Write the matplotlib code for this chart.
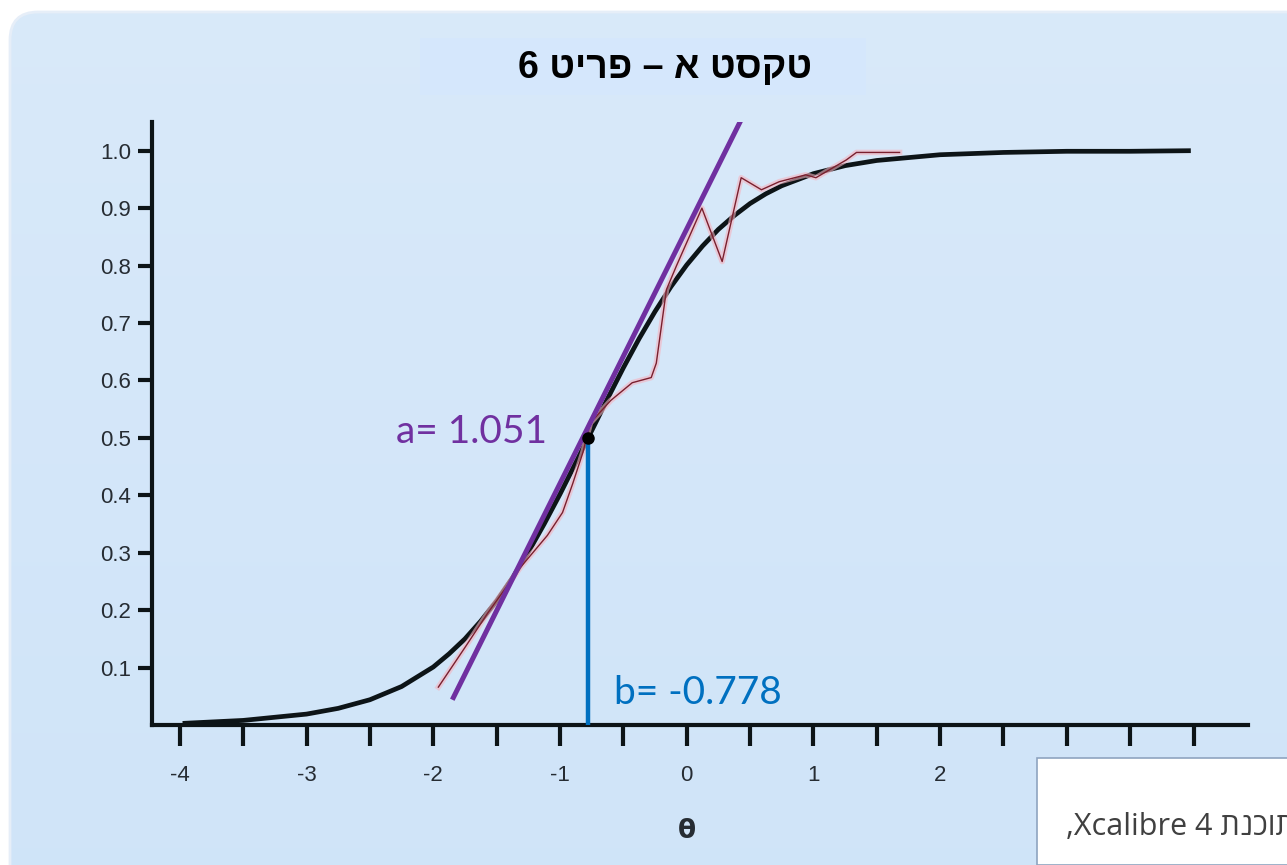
import numpy as np
import matplotlib.pyplot as plt
from matplotlib.patches import FancyBboxPatch, Rectangle

# model ICC (2PL)
theta_icc = [-3.96, -3.5, -3.0, -2.75, -2.5, -2.25, -2.0, -1.875, -1.75, -1.625, -1.5,
             -1.375, -1.25, -1.125, -1.0, -0.875, -0.778, -0.625, -0.5, -0.375, -0.25,
             -0.125, 0.0, 0.125, 0.25, 0.375, 0.5, 0.625, 0.75, 1.0, 1.25, 1.5, 2.0,
             2.5, 3.0, 3.5, 3.96]
p_icc = [0.003, 0.008, 0.019, 0.029, 0.044, 0.067, 0.101, 0.124, 0.150, 0.181, 0.216,
         0.256, 0.301, 0.350, 0.402, 0.457, 0.5, 0.568, 0.622, 0.673, 0.720,
         0.763, 0.801, 0.834, 0.863, 0.887, 0.908, 0.925, 0.939, 0.960, 0.974, 0.983,
         0.993, 0.997, 0.999, 0.999, 1.0]

# empirical (red) line
theta_emp = [-1.96, -1.75, -1.57, -1.31, -1.10, -0.98, -0.90, -0.82, -0.76, -0.60, -0.43,
             -0.28, -0.24, -0.16, -0.08, 0.12, 0.28, 0.43, 0.59, 0.73, 0.94, 1.02, 1.26,
             1.34, 1.68]
p_emp = [0.066, 0.135, 0.195, 0.275, 0.330, 0.370, 0.42, 0.474, 0.526, 0.565, 0.596,
         0.605, 0.63, 0.758, 0.80, 0.90, 0.807, 0.953, 0.932, 0.946, 0.958, 0.953, 0.984,
         0.997, 0.997]

# tangent at b
tan_x = [-1.85, 0.457]
tan_y = [0.044, 1.066]

a_param = 1.051
b_param = -0.778

x_ticks = np.arange(-4, 4.01, 0.5)
x_labels = ['-4', '', '-3', '', '-2', '', '-1', '', '0', '', '1', '', '2', '', '3', '', '4']
y_ticks = [0.1, 0.2, 0.3, 0.4, 0.5, 0.6, 0.7, 0.8, 0.9, 1.0]

title_txt = "טקסט א – פריט 6"
note_heb = "תוכנת"
note_lat = "Xcalibre 4"

W, H = 1287, 865
fig = plt.figure(figsize=(W / 100, H / 100), dpi=100)
fig.patch.set_facecolor('white')

# background panel with soft gradient
bg = fig.add_axes([0, 0, 1, 1], zorder=-2)
bg.set_xlim(0, W)
bg.set_ylim(H, 0)
bg.axis('off')
grad = np.linspace(0, 1, 200)[:, None]
top = np.array([0.85, 0.915, 0.98])
bot = np.array([0.815, 0.895, 0.975])
img = top[None, None, :] * (1 - grad[..., None]) + bot[None, None, :] * grad[..., None]
panel = FancyBboxPatch((10, 12), W + 40, H + 40, boxstyle="round,pad=0,rounding_size=28",
                       facecolor='none', edgecolor='#e6eef8', lw=2)
bg.add_patch(panel)
im = bg.imshow(img, extent=[10, W, H, 12], aspect='auto')
im.set_clip_path(panel)
# title box
bg.add_patch(Rectangle((420, 38), 446, 57, facecolor='#d5e7fc', edgecolor='none'))

ax = fig.add_axes([152 / W, (H - 725) / H, (1248 - 152) / W, (725 - 122) / H])
ax.set_facecolor('none')
ax.set_xlim(-4.22, 4.43)
ax.set_ylim(0, 1.05)

ax.plot(theta_icc, p_icc, color='#0d1417', lw=3.4, zorder=3)
ax.plot(theta_emp, p_emp, color='#f5b3c0', lw=4, alpha=0.6, zorder=4)
ax.plot(theta_emp, p_emp, color='#7a1f2e', lw=1.0, zorder=5)
ax.plot(tan_x, tan_y, color='#7030a0', lw=3.6, zorder=6, solid_capstyle='butt')
ax.plot([b_param, b_param], [0, 0.5], color='#0070c0', lw=3.2, zorder=6)
ax.plot([b_param], [0.5], 'o', color='black', ms=8, zorder=7)

ax.text(-1.10, 0.51, f"a= {a_param}", color='#7030a0', fontsize=28, family='Lato',
        ha='right', va='center')
ax.text(-0.57, 0.056, f"b= {b_param}", color='#0070c0', fontsize=28, family='Lato',
        ha='left', va='center')

for s in ['top', 'right']:
    ax.spines[s].set_visible(False)
for s in ['left', 'bottom']:
    ax.spines[s].set_linewidth(3)
    ax.spines[s].set_color('#0d1417')

ax.set_xticks(x_ticks)
ax.set_xticklabels(x_labels)
ax.set_yticks(y_ticks)
ax.set_yticklabels([f"{v:.1f}" for v in y_ticks])
ax.tick_params(axis='x', length=15, width=3, color='#0d1417', pad=14,
               labelsize=16, labelcolor='#262c33')
ax.tick_params(axis='y', length=10, width=3, color='#0d1417', pad=5,
               labelsize=16, labelcolor='#262c33')
for lab in ax.get_xticklabels() + ax.get_yticklabels():
    lab.set_family('Liberation Sans')
ax.set_xlabel("θ", fontsize=19, fontweight='bold', color='#262c33',
              family='DejaVu Sans')
ax.xaxis.set_label_coords((0 + 4.22) / 8.65, -0.155)

# title (visual order, since matplotlib does not reorder RTL text)
fig.text(665 / W, 1 - 68 / H, title_txt[::-1], fontsize=27, fontweight='bold',
         family='Liberation Sans', ha='center', va='center', color='black')

# white note box at bottom right, above the axis labels
box = Rectangle((1037 / W, 0), 1, 1 - 758 / H, transform=fig.transFigure,
                facecolor='white', edgecolor='#8ea4c0', lw=1.2, zorder=20)
fig.add_artist(box)
fig.text(1066 / W, 1 - 827 / H, "," + note_lat + " " + note_heb[::-1], fontsize=22,
         family=['Open Sans', 'DejaVu Sans'], color='#404040',
         ha='left', va='center', zorder=21)

fig.savefig('out.png', dpi=100)
